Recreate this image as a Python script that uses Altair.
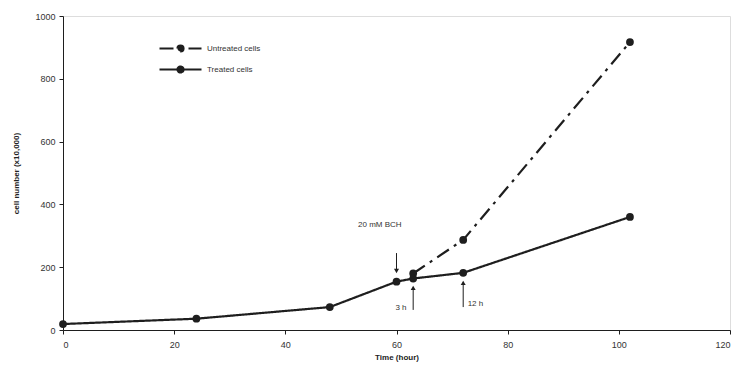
import altair as alt
import pandas as pd

# data
time_treated = [0, 24, 48, 60, 63, 72, 102]
cells_treated = [19, 36, 73, 154, 164, 182, 360]
time_untreated = [63, 72, 102]
cells_untreated = [180, 287, 917]
series_names = ["Untreated cells", "Treated cells"]

# annotations (data units)
ann_text = ["20 mM BCH", "3 h", "12 h"]
ann_x = [60, 63, 72]
ann_text_x = [57, 61.8, 72.8]
ann_text_y = [334, 70, 83]
ann_start = [245, 64, 73]
ann_end = [188, 134, 150]
ann_align = ["center", "right", "left"]

rows = []
for t, c in zip(time_untreated, cells_untreated):
    rows.append({"t": t, "c": c, "s": series_names[0]})
for t, c in zip(time_treated, cells_treated):
    rows.append({"t": t, "c": c, "s": series_names[1]})
df = pd.DataFrame(rows)

ann = pd.DataFrame({"label": ann_text, "x": ann_x, "tx": ann_text_x, "ty": ann_text_y,
                    "y1": ann_start, "y2": ann_end, "al": ann_align})

ink = "#1e1e1e"
xs = alt.Scale(domain=[0, 120], nice=False)
ys = alt.Scale(domain=[0, 1000], nice=False)

xaxis = alt.Axis(title="Time (hour)", values=[0, 20, 40, 60, 80, 100, 120], grid=False,
                 labelFontSize=9, titleFontSize=8, titleFontWeight="bold", tickSize=4,
                 domainColor=ink, tickColor=ink, labelColor="#333", titleColor="#222",
                 labelPadding=6, titlePadding=4)
yaxis = alt.Axis(title="cell number (x10,000)", values=[0, 200, 400, 600, 800, 1000], grid=False,
                 format="d",
                 labelFontSize=9, titleFontSize=8, titleFontWeight="bold", tickSize=4,
                 domainColor=ink, tickColor=ink, labelColor="#333", titleColor="#222",
                 labelPadding=4, titlePadding=14)

legend_symbol = "M-2.1,0H2.1M-0.3,0A0.3,0.3,0,1,1,0.3,0A0.3,0.3,0,1,1,-0.3,0Z"

base = alt.Chart(df)

lines = base.mark_line(strokeWidth=2.2, color=ink).encode(
    x=alt.X("t:Q", scale=xs, axis=xaxis),
    y=alt.Y("c:Q", scale=ys, axis=yaxis),
    strokeDash=alt.StrokeDash(
        "s:N",
        scale=alt.Scale(domain=series_names, range=[[14, 6, 3, 6], [1, 0]]),
        legend=alt.Legend(title=None, orient="none", legendX=106, legendY=21,
                          symbolType=legend_symbol, symbolSize=400, symbolStrokeWidth=2.2,
                          symbolStrokeColor=ink, symbolFillColor=ink,
                          labelFontSize=8, labelColor="#333", labelOffset=15,
                          rowPadding=2, symbolOffset=0, padding=0),
    ),
    detail="s:N",
)

points = base.mark_point(filled=True, size=60, color=ink, opacity=1).encode(
    x="t:Q", y="c:Q"
)

arrows = alt.Chart(ann).mark_rule(color=ink, strokeWidth=1).encode(
    x=alt.X("x:Q", scale=xs), y=alt.Y("y1:Q", scale=ys), y2="y2:Q"
)

heads_down = alt.Chart(ann[ann["label"] == ann_text[0]]).mark_point(
    shape="triangle-down", filled=True, size=25, color=ink, opacity=1
).encode(x=alt.X("x:Q", scale=xs), y=alt.Y("y2:Q", scale=ys))

heads_up = alt.Chart(ann[ann["label"] != ann_text[0]]).mark_point(
    shape="triangle-up", filled=True, size=25, color=ink, opacity=1
).encode(x=alt.X("x:Q", scale=xs), y=alt.Y("y2:Q", scale=ys))

texts = []
for a in ["center", "right", "left"]:
    texts.append(alt.Chart(ann[ann["al"] == a]).mark_text(
        fontSize=8, color="#333", align=a, baseline="middle"
    ).encode(x=alt.X("tx:Q", scale=xs), y=alt.Y("ty:Q", scale=ys), text="label:N"))

chart = alt.layer(lines, points, arrows, heads_down, heads_up, *texts).properties(
    width=667, height=314,
    autosize=alt.AutoSizeParams(type="none"),
    padding={"left": 63, "top": 16, "right": 9, "bottom": 41},
    background="white",
).configure_view(stroke=None).configure(font="Liberation Sans")

chart.save("out.html", embed_options={"renderer": "svg", "actions": False})
